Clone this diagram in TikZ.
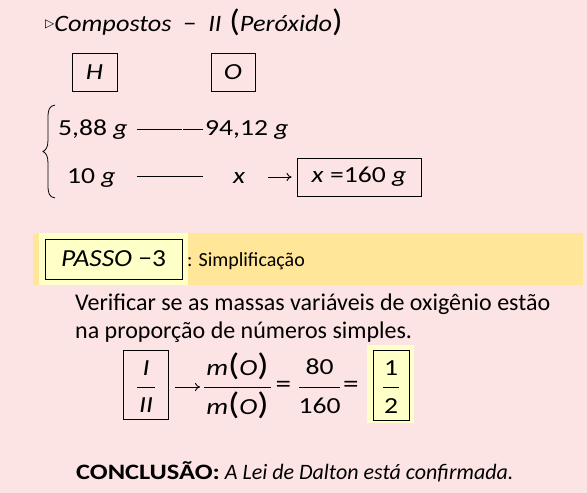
\documentclass[tikz,border=0pt]{standalone}
\usepackage{fontspec}
\setmainfont{Carlito}
\newfontfamily\wf[FakeStretch=1.2]{Carlito}
\newfontfamily\wt[FakeStretch=1.12]{Carlito}
\newfontfamily\dejavu{DejaVu Sans}
\usetikzlibrary{arrows.meta}
\definecolor{bg}{HTML}{FDE4E4}
\definecolor{band}{HTML}{FFE699}
\definecolor{lightyel}{HTML}{FFFFC8}
\newcommand{\bigpar}[1]{{\fontsize{31}{31}\selectfont #1}}
\tikzset{
  txt/.style={inner sep=0pt, anchor=base west, font=\fontsize{24}{28}\selectfont},
  mtxt/.style={inner sep=0pt, anchor=base west, font=\wf\fontsize{23}{27}\selectfont},
  ctxt/.style={inner sep=0pt, font=\wf\fontsize{23}{27}\selectfont},
  boxnode/.style={draw, line width=0.9pt, inner sep=0pt},
  ruleline/.style={line width=0.9pt},
  arr/.style={line width=0.9pt, -{To[length=5pt,width=8pt]}}
}
\begin{document}
\begin{tikzpicture}[x=1pt,y=-1pt]
\fill[bg] (0,0) rectangle (587,493);
\useasboundingbox (0,0) rectangle (587,493);

% title
\node[txt, font=\wt\fontsize{23.5}{28}\selectfont] (title) at (45,31)
  {\raisebox{4pt}{\dejavu\fontsize{12}{12}\selectfont ▷}\textit{Compostos}\,\,\,−\,\,\,\textit{II}\,\,\bigpar{(}\textit{Peróxido}\bigpar{)}};

% element boxes
\node[boxnode, minimum width=45pt, minimum height=38pt, font=\wf\fontsize{23}{27}\selectfont] (H) at (94.5,72) {\textit{H}};
\node[boxnode, minimum width=44pt, minimum height=38pt, font=\wf\fontsize{23}{27}\selectfont] (O) at (233,72) {\textit{O}};

% brace
\draw[line width=0.8pt] (55,105) .. controls (49,106) and (48,110) .. (48,118) -- (48,140)
  .. controls (48,147) and (46,150) .. (43,151.5)
  .. controls (46,153) and (48,156) .. (48,163) -- (48,185)
  .. controls (48,193) and (49,197) .. (55,198);

% rows
\node[mtxt] (r1a) at (58,135) {5,88 \textit{g}};
\node[mtxt] (r1b) at (205,135) {94,12 \textit{g}};
\coordinate (l1s) at (137,129);
\coordinate (l1m) at (182,129);
\coordinate (l1n) at (183,129);
\coordinate (l1e) at (203,129);
\draw[ruleline] (l1s) -- (l1m);
\draw[ruleline] (l1n) -- (l1e);

\node[mtxt] (r2a) at (67,183) {10 \textit{g}};
\node[mtxt] (r2b) at (233,183) {\textit{x}};
\coordinate (l2s) at (137,176);
\coordinate (l2e) at (203,176);
\draw[ruleline] (l2s) -- (l2e);

\node[boxnode, minimum width=124pt, minimum height=38pt, font=\wf\fontsize{23}{27}\selectfont] (res) at (359,177)
  {\textit{x} =160 \textit{g}};
\coordinate (a1s) at (268,177);
\draw[arr, shorten >=5pt] (a1s) -- (res.west);

% band
\fill[band] (33,233) rectangle (583,285);
\fill[lightyel] (39,233) rectangle (188,285);
\node[boxnode, minimum width=137pt, minimum height=40pt, font=\wt\fontsize{24.5}{28}\selectfont] (passo) at (113.5,259)
  {\textit{PASSO} −3};
\node[txt, font=\fontsize{20}{24}\selectfont] (simp) at (187,266) {: Simplificação};

% text
\node[txt] (v1) at (75,310) {Verificar se as massas variáveis de oxigênio estão};
\node[txt] (v2) at (75,338) {na proporção de números simples.};

% fractions
\node[boxnode, minimum width=45pt, minimum height=69pt] (f1) at (145.5,384.5) {};
\node[ctxt] (f1n) at (146,368) {\textit{I}};
\node[ctxt] (f1d) at (146,405) {\textit{II}};
\draw[ruleline] (137,387) -- (155,387);

\coordinate (a2e) at (200,387);
\draw[arr, shorten <=7pt] (f1.east |- a2e) -- (a2e);

\node[ctxt] (mn) at (237.5,366) {\textit{m}\bigpar{(}\textit{O}\bigpar{)}};
\node[ctxt] (md) at (237.5,405) {\textit{m}\bigpar{(}\textit{O}\bigpar{)}};
\draw[ruleline] (204,387) -- (271,387);

\node[ctxt, font=\wf\fontsize{26}{28}\selectfont] (eq1) at (283.5,387) {=};
\node[ctxt] (n80) at (319.5,367) {80};
\node[ctxt] (n160) at (319.5,406) {160};
\draw[ruleline] (299,387) -- (340,387);
\node[ctxt, font=\wf\fontsize{26}{28}\selectfont] (eq2) at (351,387) {=};

\fill[lightyel] (367,345) rectangle (414,423);
\node[boxnode, minimum width=36pt, minimum height=70pt] (f2) at (391,385) {};
\node[ctxt] (n1) at (391,368) {1};
\node[ctxt] (n2) at (391,406) {2};
\draw[ruleline] (383,387) -- (399,387);

% conclusion
\node[txt, font=\fontsize{22}{26}\selectfont] (conc) at (76,479)
  {{\wf\bfseries CONCLUSÃO:} \textit{A Lei de Dalton está confirmada.}};
\end{tikzpicture}
\end{document}
